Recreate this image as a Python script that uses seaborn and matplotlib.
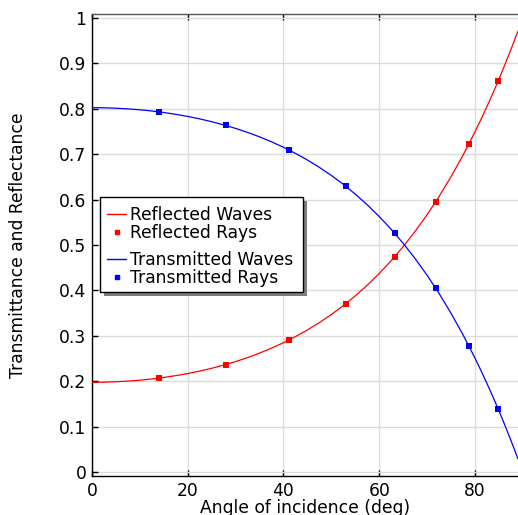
import matplotlib
matplotlib.use("Agg")
import matplotlib.pyplot as plt
import seaborn as sns
import pandas as pd
from matplotlib.lines import Line2D
from matplotlib.patches import Rectangle

# ---- data ----
angle_wave = [0, 2.5, 5, 7.5, 10, 12.5, 15, 17.5, 20, 22.5, 25, 27.5, 30, 32.5, 35,
              37.5, 40, 42.5, 45, 47.5, 50, 52.5, 55, 57.5, 60, 62.5, 65, 67.5, 70,
              72.5, 75, 77.5, 80, 81.25, 82.5, 83.75, 85, 86.25, 87.5, 88.25, 89]
reflected_wave = [0.1975, 0.1978, 0.1987, 0.2002, 0.2022, 0.2049, 0.2082, 0.2122,
                  0.2168, 0.2222, 0.2284, 0.2354, 0.2432, 0.2520, 0.2618, 0.2727,
                  0.2848, 0.2981, 0.3128, 0.3290, 0.3468, 0.3664, 0.3879, 0.4114,
                  0.4372, 0.4654, 0.4962, 0.5299, 0.5666, 0.6066, 0.6502, 0.6975,
                  0.7489, 0.7762, 0.8046, 0.8341, 0.8647, 0.8968, 0.9299, 0.9504,
                  0.9713]
transmitted_wave = [0.8025, 0.8022, 0.8013, 0.7998, 0.7978, 0.7951, 0.7918, 0.7878,
                    0.7832, 0.7778, 0.7716, 0.7646, 0.7568, 0.7480, 0.7382, 0.7273,
                    0.7152, 0.7019, 0.6872, 0.6710, 0.6532, 0.6336, 0.6121, 0.5886,
                    0.5628, 0.5346, 0.5038, 0.4701, 0.4334, 0.3934, 0.3498, 0.3025,
                    0.2511, 0.2238, 0.1954, 0.1659, 0.1353, 0.1032, 0.0701, 0.0496,
                    0.0287]

angle_ray = [14.0, 27.9, 41.2, 53.1, 63.3, 71.8, 78.7, 84.85]
reflected_ray = [0.206, 0.236, 0.290, 0.371, 0.474, 0.594, 0.723, 0.861]
transmitted_ray = [0.794, 0.764, 0.710, 0.629, 0.526, 0.406, 0.277, 0.139]

x_ticks = [0, 20, 40, 60, 80]
y_ticks = [0, 0.1, 0.2, 0.3, 0.4, 0.5, 0.6, 0.7, 0.8, 0.9, 1]
y_tick_labels = ["0", "0.1", "0.2", "0.3", "0.4", "0.5", "0.6", "0.7", "0.8", "0.9", "1"]

sns.set_style("white")
plt.rcParams['font.family'] = ['DejaVu Sans']
plt.rcParams['text.color'] = 'black'
plt.rcParams['axes.labelcolor'] = 'black'
plt.rcParams['xtick.color'] = 'black'
plt.rcParams['ytick.color'] = 'black'
FS = 12.3

W, H = 518, 515
fig = plt.figure(figsize=(W / 100, H / 100), dpi=100)
ax = fig.add_axes([92 / W, (H - 476.3) / H, (W - 92) / W, (476.3 - 14) / H])

waves = pd.DataFrame({"angle": angle_wave, "R": reflected_wave, "T": transmitted_wave})
rays = pd.DataFrame({"angle": angle_ray, "R": reflected_ray, "T": transmitted_ray})

sns.lineplot(data=waves, x="angle", y="R", ax=ax, color="#ff0000", lw=0.9, zorder=3)
sns.lineplot(data=waves, x="angle", y="T", ax=ax, color="#0000ff", lw=0.9, zorder=3)
sns.scatterplot(data=rays, x="angle", y="R", ax=ax, color="#ff0000", marker="s",
                s=14, linewidth=0, zorder=4)
sns.scatterplot(data=rays, x="angle", y="T", ax=ax, color="#0000ff", marker="s",
                s=14, linewidth=0, zorder=4)

ax.set_xlim(0, 89)
ax.set_ylim(-0.0095, 1.0088)
ax.set_xticks(x_ticks)
ax.set_yticks(y_ticks)
ax.set_yticklabels(y_tick_labels)
ax.grid(True, color="#dcdcdc", lw=1.0, zorder=0)
ax.set_axisbelow(True)

for side in ["left", "bottom", "top"]:
    ax.spines[side].set_visible(True)
    ax.spines[side].set_color("black")
    ax.spines[side].set_linewidth(1.0)
ax.spines["top"].set_color("#555555")
ax.spines["right"].set_visible(False)

ax.tick_params(axis="both", direction="in", length=4, width=1, color="black",
               labelcolor="black", labelsize=FS, top=True, bottom=True, left=True,
               right=False, pad=4)

ax.set_xlabel("Angle of incidence (deg)", fontsize=FS, color="black")
ax.set_ylabel("Transmittance and Reflectance", fontsize=FS, color="black")
ax.xaxis.set_label_coords(0.5, -0.05)
ax.yaxis.set_label_coords(-0.153, 0.5)

# ---- legend: framed box with shadow, two groups ----
def fx(px):
    return px / W

def fy(py):
    return (H - py) / H

box_l, box_t, box_r, box_b = 100, 197, 303, 292
fig.add_artist(Rectangle((fx(box_l + 4), fy(box_b + 4)), fx(box_r - box_l), (box_b - box_t) / H,
                         transform=fig.transFigure, facecolor="#7f7f7f", edgecolor="none",
                         zorder=5))
fig.add_artist(Rectangle((fx(box_l), fy(box_b)), fx(box_r - box_l), (box_b - box_t) / H,
                         transform=fig.transFigure, facecolor="white", edgecolor="black",
                         lw=1.0, zorder=6))

leg_kw = dict(loc="upper left", fontsize=FS, frameon=False, handlelength=1.12,
              handletextpad=0.25, labelspacing=0.0, borderpad=0.0, borderaxespad=0.0,
              bbox_transform=fig.transFigure, labelcolor="black")

h1 = [Line2D([], [], color="#ff0000", lw=1.0),
      Line2D([], [], color="#ff0000", marker="s", ls="none", ms=3.5)]
h2 = [Line2D([], [], color="#0000ff", lw=1.0),
      Line2D([], [], color="#0000ff", marker="s", ls="none", ms=3.5)]
leg1 = fig.legend(h1, ["Reflected Waves", "Reflected Rays"],
                  bbox_to_anchor=(fx(107), fy(206)), **leg_kw)
leg1.set_zorder(7)
leg2 = fig.legend(h2, ["Transmitted Waves", "Transmitted Rays"],
                  bbox_to_anchor=(fx(107), fy(251)), **leg_kw)
leg2.set_zorder(7)

fig.savefig("out.png", dpi=100)
